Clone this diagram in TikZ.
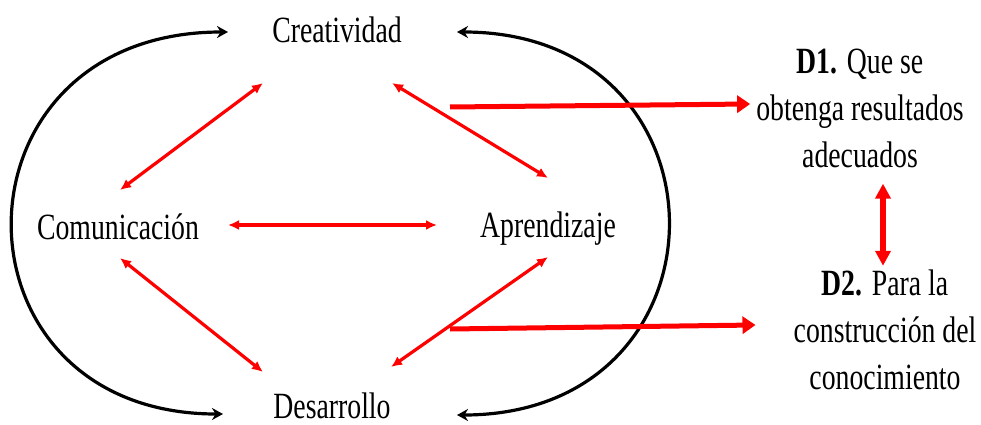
\documentclass[tikz,border=0pt]{standalone}
\usepackage{fontspec}
\setmainfont{Liberation Serif}[FakeStretch=0.75]
\usetikzlibrary{arrows.meta,calc}
\definecolor{pred}{RGB}{255,0,0}
\begin{document}
\begin{tikzpicture}[x=1pt,y=-1pt,
  lbl/.style={inner sep=0pt, font=\fontsize{37}{47}\selectfont},
  redarr/.style={pred, line width=3.2pt, {Latex[length=11pt,width=10pt]}-{Latex[length=11pt,width=10pt]}},
  thickarr/.style={pred, line width=5pt, -{Triangle[length=13pt,width=17pt]}},
  thickdbl/.style={pred, line width=5.5pt, {Triangle[length=15pt,width=15pt]}-{Triangle[length=15pt,width=15pt]}},
  blackarr/.style={black, line width=3.2pt, {Stealth[length=11pt,width=12pt]}-{Stealth[length=11pt,width=12pt]}}]
\useasboundingbox (0,0) rectangle (981,425);
\fill[white] (0,0) rectangle (981,425);

\node[lbl,anchor=base] (cre) at (337,43) {Creatividad};
\node[lbl,anchor=base] (com) at (118,239) {Comunicación};
\node[lbl,anchor=base] (apr) at (548,237) {Aprendizaje};
\node[lbl,anchor=base] (des) at (332,418) {Desarrollo};
\node[lbl,align=center] (d1) at (860,108) {\textbf{D1.} Que se\\obtenga\ resultados\\adecuados};
\node[lbl,align=center] (d2) at (885,330) {\textbf{D2.} Para la\\construcción\ del\\conocimiento};

% named end points near the nodes
\coordinate (creL) at ($(cre.base)+(-74,40)$);
\coordinate (creR) at ($(cre.base)+(55,40)$);
\coordinate (creOut) at ($(cre.base)+(113,64)$);
\coordinate (comT) at ($(com.base)+(2,-49)$);
\coordinate (comB) at ($(com.base)+(2,19)$);
\coordinate (comE) at ($(com.base)+(110,-14)$);
\coordinate (aprT) at ($(apr.base)+(0,-59)$);
\coordinate (aprW) at ($(apr.base)+(-111,-12)$);
\coordinate (aprB) at ($(apr.base)+(0,20)$);
\coordinate (desL) at ($(des.base)+(-69,-46)$);
\coordinate (desR) at ($(des.base)+(59,-51)$);
\coordinate (desOut) at ($(des.base)+(118,-89)$);
\coordinate (d1In) at ($(d1.west)+(-6,-4)$);
\coordinate (d2In) at ($(d2.west)+(-38,-5)$);
\coordinate (d1S) at ($(d1.south)+(23,16)$);
\coordinate (d2N) at ($(d2.north)+(-2,-4)$);
\coordinate (creWL) at ($(cre.base)+(-109,-11)$);
\coordinate (desWL) at ($(des.base)+(-109,-4)$);
\coordinate (creWR) at ($(cre.base)+(120,-11)$);
\coordinate (desWR) at ($(des.base)+(125,-3)$);

% black enclosing arcs
\draw[blackarr] (creWL) .. controls (-58,32) and (-58,414) .. (desWL);
\draw[blackarr] (creWR) .. controls (738,32) and (738,415) .. (desWR);

% red relations
\draw[redarr] (comT) -- (creL);
\draw[redarr] (creR) -- (aprT);
\draw[redarr] (comE) -- (aprW);
\draw[redarr] (comB) -- (desL);
\draw[redarr] (aprB) -- (desR);

% thick arrows to D1 / D2
\draw[thickarr] (creOut) -- (d1In);
\draw[thickarr] (desOut) -- (d2In);
\draw[thickdbl] (d1S) -- (d2N);
\end{tikzpicture}
\end{document}
